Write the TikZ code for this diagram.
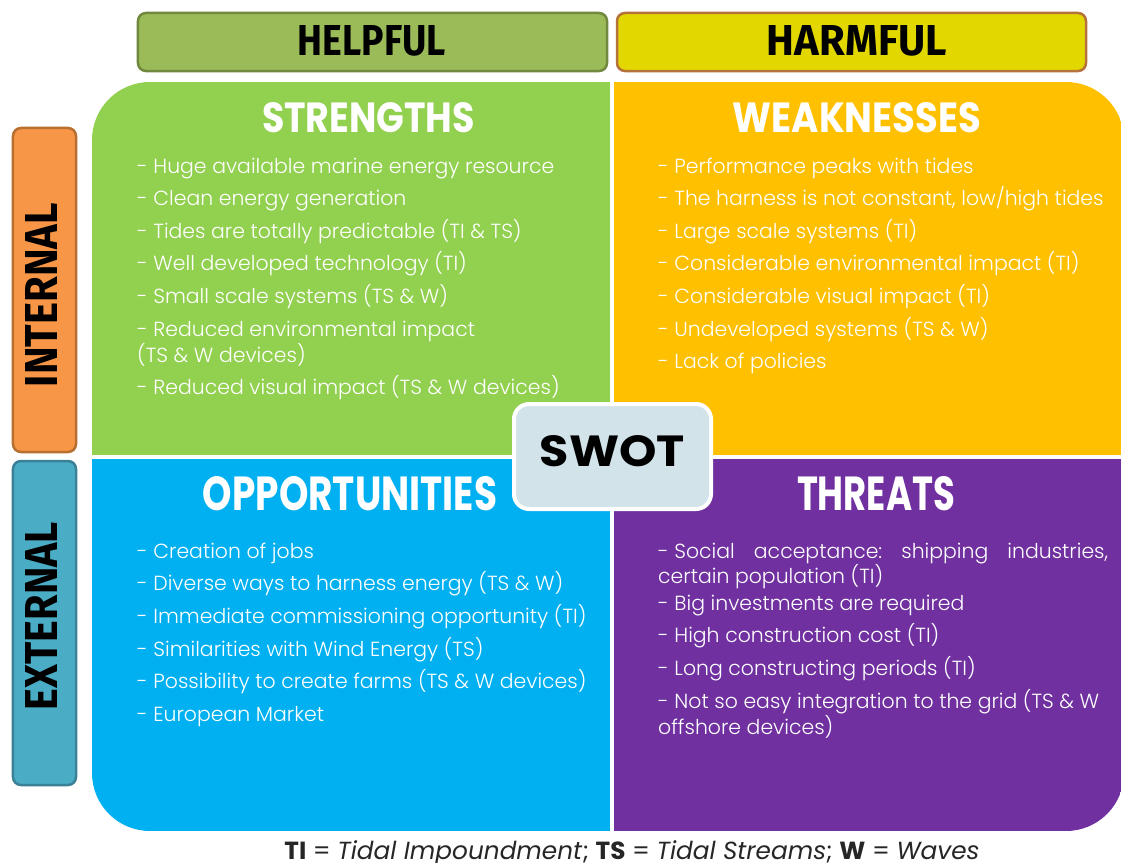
\documentclass[tikz,border=0pt]{standalone}
\usepackage{fontspec}
\setmainfont{Poppins}
\IfFontExistsTF{Poppins Light}{\newfontfamily\bodyfont{Poppins Light}}{\newfontfamily\bodyfont{Poppins}}
\newfontfamily\labfont{Fira Sans}
\usepackage{graphicx}
\definecolor{cS}{HTML}{92D050}
\definecolor{cW}{HTML}{FFC000}
\definecolor{cO}{HTML}{00B0F0}
\definecolor{cT}{HTML}{7030A0}
\definecolor{cHelp}{HTML}{9BBB59}
\definecolor{cHelpB}{HTML}{71893F}
\definecolor{cHarm}{HTML}{E2D800}
\definecolor{cHarmB}{HTML}{B5723A}
\definecolor{cInt}{HTML}{F79646}
\definecolor{cIntB}{HTML}{B86F30}
\definecolor{cExt}{HTML}{4BACC6}
\definecolor{cExtB}{HTML}{3A8197}
\definecolor{cSwot}{HTML}{D2E3EA}
\definecolor{cFoot}{HTML}{262626}
\begin{document}
\begin{tikzpicture}[x=1bp,y=-1bp,
  labbox/.style={rectangle, rounded corners=8bp, line width=2.5bp, inner sep=0},
  labtext/.style={anchor=base, inner sep=0, text=black, font=\labfont\bfseries},
  head/.style={anchor=base, inner sep=0, text=white, font=\bfseries},
  item/.style={anchor=base west, inner sep=0, text=white, font=\bodyfont\fontsize{20.5}{22}\selectfont}]
\useasboundingbox (0,0) rectangle (1121,863);
\fill[white] (0,0) rectangle (1121,863);
% quadrants
\begin{scope}
\clip[rounded corners=58bp] (92,82) rectangle (1124,831);
\fill[cS] (92,82) rectangle (610,455);
\fill[cW] (614,82) rectangle (1124,455);
\fill[cO] (92,459) rectangle (610,831);
\fill[cT] (614,459) rectangle (1124,831);
\end{scope}
% top labels
\node[labbox, fill=cHelp, draw=cHelpB, minimum width=469bp, minimum height=58bp] (helpbox) at (372.5,42) {};
\node[labbox, fill=cHarm, draw=cHarmB, minimum width=469bp, minimum height=58bp] (harmbox) at (851.5,42) {};
\node[labtext] (helpful) at (372,55) {\resizebox{148bp}{30bp}{HELPFUL}};
\node[labtext] (harmful) at (857,55) {\resizebox{180bp}{30bp}{HARMFUL}};
% side labels
\node[labbox, fill=cInt, draw=cIntB, minimum width=63bp, minimum height=324bp] (intbox) at (44.5,290) {};
\node[labbox, fill=cExt, draw=cExtB, minimum width=63bp, minimum height=324bp] (extbox) at (44.5,623) {};
\node[labtext, rotate=90] (internal) at (57,295) {\resizebox{184bp}{32bp}{INTERNAL}};
\node[labtext, rotate=90] (external) at (57,616) {\resizebox{188bp}{32bp}{EXTERNAL}};
% headings
\node[head] (hs) at (368.5,132) {\resizebox{213bp}{30bp}{STRENGTHS}};
\node[head] (hw) at (857,132) {\resizebox{248bp}{30bp}{WEAKNESSES}};
\node[head] (ho) at (350,510) {\resizebox{294bp}{34bp}{OPPORTUNITIES}};
\node[head] (ht) at (876,510) {\resizebox{158bp}{34bp}{THREATS}};
% strengths
\node[item] (s1) at (137,173) {- Huge available marine energy resource};
\node[item] (s2) at (137,205.5) {- Clean energy generation};
\node[item] (s3) at (137,238) {- Tides are totally predictable (TI \& TS)};
\node[item] (s4) at (137,270.5) {- Well developed technology (TI)};
\node[item] (s5) at (137,303) {- Small scale systems (TS \& W)};
\node[item] (s6) at (137,336) {- Reduced environmental impact};
\node[item] (s6b) at (137,362) {(TS \& W devices)};
\node[item] (s7) at (137,394) {- Reduced visual impact (TS \& W devices)};
% weaknesses
\node[item] (w1) at (658,173) {- Performance peaks with tides};
\node[item] (w2) at (658,205.5) {- The harness is not constant, low/high tides};
\node[item] (w3) at (658,238) {- Large scale systems (TI)};
\node[item] (w4) at (658,270.5) {- Considerable environmental impact (TI)};
\node[item] (w5) at (658,303) {- Considerable visual impact (TI)};
\node[item] (w6) at (658,336) {- Undeveloped systems (TS \& W)};
\node[item] (w7) at (658,368) {- Lack of policies};
% opportunities
\node[item] (o1) at (137,558) {- Creation of jobs};
\node[item] (o2) at (137,590.5) {- Diverse ways to harness energy (TS \& W)};
\node[item] (o3) at (137,623) {- Immediate commissioning opportunity (TI)};
\node[item] (o4) at (137,656) {- Similarities with Wind Energy (TS)};
\node[item] (o5) at (137,688) {- Possibility to create farms (TS \& W devices)};
\node[item] (o6) at (137,721) {- European Market};
% threats
\node[item] (t1) at (658,558) {\hbox to 450bp{- Social\hfill acceptance:\hfill shipping\hfill industries,}};
\node[item] (t1b) at (658,583) {certain population (TI)};
\node[item] (t2) at (658,610) {- Big investments are required};
\node[item] (t3) at (658,642) {- High construction cost (TI)};
\node[item] (t4) at (658,675) {- Long constructing periods (TI)};
\node[item] (t5) at (658,708) {- Not so easy integration to the grid (TS \& W};
\node[item] (t5b) at (658,734) {offshore devices)};
% SWOT
\node[rectangle, rounded corners=15bp, fill=cSwot, draw=white, line width=4bp,
  minimum width=197bp, minimum height=105bp, inner sep=0] (swotbox) at (612.5,456.5) {};
\node[anchor=base, inner sep=0, font=\bfseries] (swot) at (612.5,466) {\resizebox{145bp}{31bp}{SWOT}};
% footer
\node[anchor=base, inner sep=0, text=cFoot] (foot) at (632,859)
  {\resizebox{695bp}{!}{\textbf{TI} = \textit{Tidal Impoundment}; \textbf{TS} = \textit{Tidal Streams}; \textbf{W} = \textit{Waves}}};
\end{tikzpicture}
\end{document}
